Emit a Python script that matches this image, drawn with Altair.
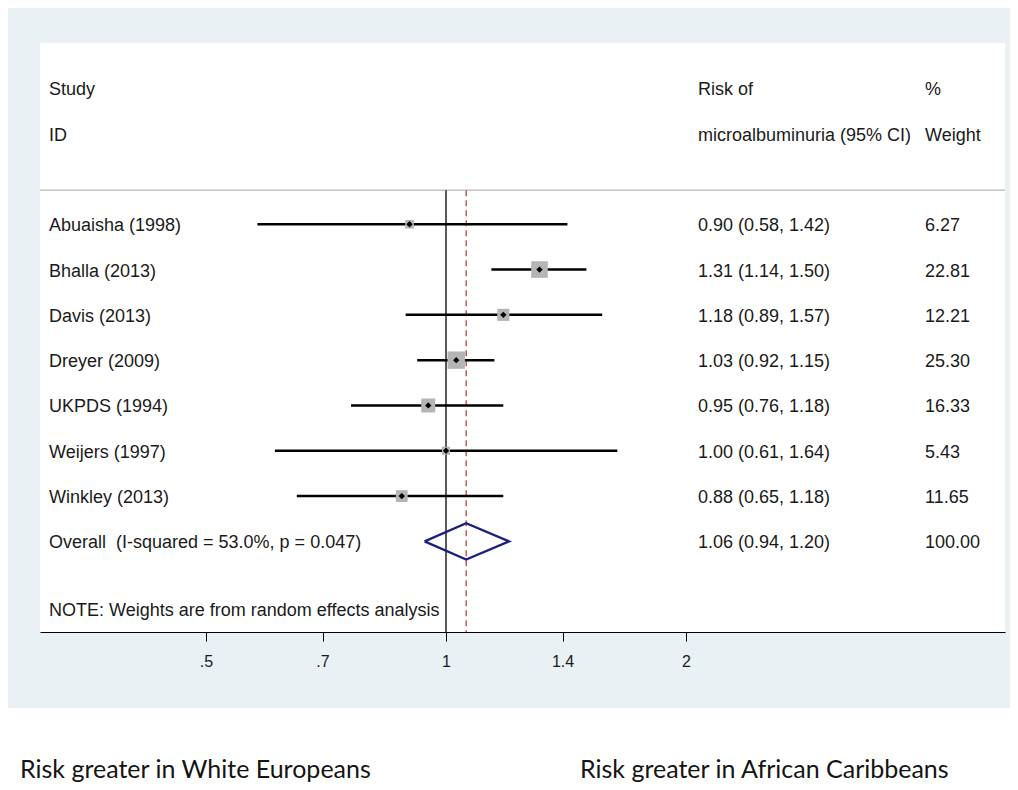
import altair as alt
import pandas as pd

# ---------------- data ----------------
studies = ["Abuaisha (1998)", "Bhalla (2013)", "Davis (2013)", "Dreyer (2009)",
           "UKPDS (1994)", "Weijers (1997)", "Winkley (2013)"]
rr = [0.90, 1.31, 1.18, 1.03, 0.95, 1.00, 0.88]
lo = [0.58, 1.14, 0.89, 0.92, 0.76, 0.61, 0.65]
hi = [1.42, 1.50, 1.57, 1.15, 1.18, 1.64, 1.18]
weights = [6.27, 22.81, 12.21, 25.30, 16.33, 5.43, 11.65]

overall_label = "Overall\u00a0 (I-squared = 53.0%, p = 0.047)"
overall_rr = 1.06
overall_lo = 0.94
overall_hi = 1.20
overall_w = 100.00

note_text = "NOTE: Weights are from random effects analysis"
header_left = ["Study", "ID"]
header_mid = ["Risk of", "microalbuminuria (95% CI)"]
header_right = ["%", "Weight"]
bottom_left = "Risk greater in White Europeans"
bottom_right = "Risk greater in African Caribbeans"

tick_values = [0.5, 0.7, 1, 1.4, 2]
tick_labels = [".5", ".7", "1", "1.4", "2"]
null_value = 1.0

# ---------------- layout ----------------
W, H = 965, 589
FONT = "Liberation Sans"
TXT = "#1a1a1a"
GRAYBG = "#e9f1f4"

rows = pd.DataFrame({"study": studies, "rr": rr, "lo": lo, "hi": hi,
                     "w": weights, "row": list(range(len(studies)))})

table = pd.DataFrame({
    "label": studies + [overall_label],
    "est": [f"{a:.2f} ({b:.2f}, {c:.2f})" for a, b, c in
            zip(rr + [overall_rr], lo + [overall_lo], hi + [overall_hi])],
    "wt": [f"{v:.2f}" for v in weights + [overall_w]],
    "row": list(range(len(studies) + 1)),
})
orow = len(studies)

headers = pd.DataFrame({"left": header_left, "mid": header_mid,
                        "right": header_right, "row": [-3, -2]})

xs = alt.Scale(type="log", domain=[0.30955, 5.0253], nice=False)
ys = alt.Scale(domain=[-4, 9], reverse=True, nice=False, zero=False)

label_expr = " : ".join(f"datum.value == {v} ? '{l}'" for v, l in zip(tick_values, tick_labels)) + " : ''"

one = pd.DataFrame({"a": [0]})

white_bottom = alt.Chart(one).mark_rect(color="white").encode(
    x=alt.value(-40), x2=alt.value(990), y=alt.value(665), y2=alt.value(760))

sep = alt.Chart(pd.DataFrame({"y": [-0.75]})).mark_rule(
    color="#c4c4c4", strokeWidth=1.5).encode(y=alt.Y("y:Q", scale=ys, axis=None))

vlines = pd.DataFrame({"x": [null_value], "y1": [-0.75], "y2": [9]})
null_line = alt.Chart(vlines).mark_rule(color="black", strokeWidth=1.3).encode(
    x=alt.X("x:Q", scale=xs,
            axis=alt.Axis(values=tick_values, labelExpr=label_expr, title=None, grid=False,
                          domainColor="black", domainWidth=1, tickColor="black",
                          tickSize=9, tickWidth=1, labelFont=FONT, labelFontSize=16,
                          labelColor=TXT, labelPadding=12)),
    y=alt.Y("y1:Q", scale=ys, axis=None), y2="y2:Q")

ov_line = alt.Chart(pd.DataFrame({"x": [overall_rr], "y1": [-0.75], "y2": [9]})).mark_rule(
    color="#b03333", strokeWidth=1.2, strokeDash=[6, 4]).encode(
    x=alt.X("x:Q", scale=xs), y=alt.Y("y1:Q", scale=ys), y2="y2:Q")

ci = alt.Chart(rows).mark_rule(color="black", strokeWidth=2.5).encode(
    x=alt.X("lo:Q", scale=xs), x2="hi:Q", y=alt.Y("row:Q", scale=ys))

boxes = alt.Chart(rows).mark_point(shape="square", filled=True, color="#b5b5b5",
                                   opacity=1).encode(
    x=alt.X("rr:Q", scale=xs), y=alt.Y("row:Q", scale=ys),
    size=alt.Size("w:Q", scale=alt.Scale(domain=[0, 30], range=[0, 360]), legend=None))

pts = alt.Chart(rows).mark_point(shape="diamond", filled=True, color="black",
                                 size=40, opacity=1).encode(
    x=alt.X("rr:Q", scale=xs), y=alt.Y("row:Q", scale=ys))

dia = pd.DataFrame({"x": [overall_lo, overall_rr, overall_hi, overall_rr, overall_lo],
                    "y": [orow, orow - 0.4, orow, orow + 0.4, orow],
                    "o": [0, 1, 2, 3, 4]})
diamond = alt.Chart(dia).mark_line(color="#1c1f7e", strokeWidth=2.3).encode(
    x=alt.X("x:Q", scale=xs), y=alt.Y("y:Q", scale=ys), order="o:Q")

def txt(df, field, xpix, size=18):
    return alt.Chart(df).mark_text(align="left", baseline="middle", font=FONT,
                                   fontSize=size, color=TXT, dy=2).encode(
        x=alt.value(xpix), y=alt.Y("row:Q", scale=ys), text=f"{field}:N")

t_lab = txt(table, "label", 9)
t_est = txt(table, "est", 658)
t_wt = txt(table, "wt", 885)
h_l = txt(headers, "left", 9)
h_m = txt(headers, "mid", 658)
h_r = txt(headers, "right", 885)
note = txt(pd.DataFrame({"t": [note_text], "row": [8.5]}), "t", 9)

bottom = alt.Chart(pd.DataFrame({"t": [bottom_left, bottom_right], "xp": [-20, 540]})).mark_text(
    align="left", baseline="alphabetic", font="Lato", fontSize=25, color="#141414").encode(
    x=alt.X("xp:Q", scale=None), y=alt.value(735), text="t:N")

chart = alt.layer(
    white_bottom, sep, null_line, ov_line, ci, boxes, pts, diamond,
    t_lab, t_est, t_wt, h_l, h_m, h_r, note, bottom
).properties(
    width=W, height=H,
    autosize=alt.AutoSizeParams(type="none"),
    padding={"left": 32, "top": 35, "right": 5, "bottom": 150},
    background=GRAYBG,
).configure_view(stroke=None, fill="white")

chart.save("out.html", embed_options={"renderer": "svg", "actions": False})
